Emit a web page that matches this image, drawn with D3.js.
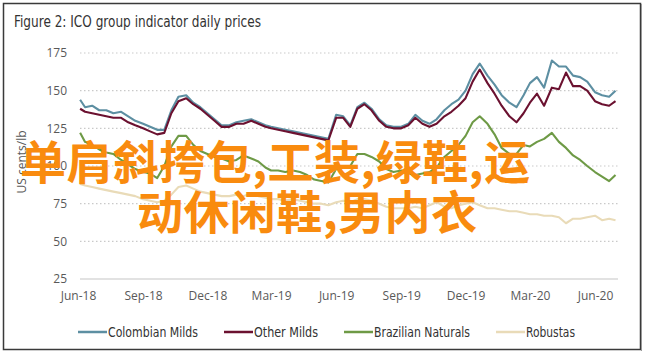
<!DOCTYPE html>
<html><head><meta charset="utf-8">
<script src="https://cdn.jsdelivr.net/npm/d3@7"></script>
<style>body{margin:0;background:#fff}svg{display:block}</style>
</head><body><svg id="c" width="646" height="360"></svg>
<script>
const dates=["2018-06-04","2018-06-11","2018-06-21","2018-07-01","2018-07-11","2018-07-21","2018-08-01","2018-08-11","2018-08-21","2018-09-01","2018-09-11","2018-09-21","2018-10-01","2018-10-11","2018-10-21","2018-11-01","2018-11-11","2018-11-21","2018-12-01","2018-12-11","2018-12-21",
"2019-01-01","2019-01-11","2019-01-21","2019-02-01","2019-02-11","2019-02-21","2019-03-01","2019-03-11","2019-03-21","2019-04-01","2019-04-11","2019-04-21","2019-05-01","2019-05-11","2019-05-21","2019-06-01","2019-06-11","2019-06-21","2019-07-01","2019-07-11","2019-07-21","2019-08-01","2019-08-11","2019-08-21","2019-09-01","2019-09-11","2019-09-21","2019-10-01","2019-10-11","2019-10-21","2019-11-01","2019-11-11","2019-11-21","2019-12-01","2019-12-11","2019-12-21",
"2020-01-01","2020-01-11","2020-01-21","2020-02-01","2020-02-11","2020-02-21","2020-03-01","2020-03-11","2020-03-21","2020-04-01","2020-04-11","2020-04-21","2020-05-01","2020-05-11","2020-05-21","2020-06-01","2020-06-11","2020-06-21","2020-06-30"];
const colombianMilds=[144,139,140,137,137,135,136,133,130,128,126,124,124,137,146,147,142,139,135,131,127,
127,129,130,131,129,127,126,125,124,123,122,121,120,119,118,134,133,127,139,142,138,131,127,126,126,128,134,130,128,131,137,141,144,150,161,168,
160,154,147,142,139,147,155,159,152,170,166,166,160,159,156,149,147,146,150];
const otherMilds=[138,136,135,134,133,132,132,129,127,125,123,121,122,135,143,145,141,138,134,130,126,
126,128,128,130,128,126,125,124,123,122,121,120,119,118,117,132,132,126,138,141,137,130,126,125,125,127,132,128,126,128,133,136,140,145,156,164,
155,148,140,133,129,135,142,148,140,152,151,162,153,153,150,143,141,140,143];
const brazilianNaturals=[122,116,114,111,109,108,104,101,98,96,95,92,100,113,120,120,114,110,108,106,105,
103,104,107,105,103,99,97,97,96,97,96,94,91,90,89,98,99,100,108,108,106,103,98,96,97,95,94,95,96,99,106,110,114,120,129,133,
128,121,112,108,108,114,113,116,118,122,116,112,107,104,100,96,93,90,94];
const robustas=[88,87,86,85,84,83,82,81,80,78,77,76,77,81,86,87,85,83,82,81,80,
80,81,80,82,80,79,78,78,77,78,77,76,75,75,74,76,77,76,78,78,77,75,73,72,72,72,73,72,74,76,73,72,74,75,76,74,
72,72,71,70,70,69,68,68,67,67,66,62,65,65,66,67,64,65,64];
const yTicks=[25,50,75,100,125,150,175];
const xTickDates=["2018-06-01","2018-09-01","2018-12-01","2019-03-01","2019-06-01","2019-09-01","2019-12-01","2020-03-01","2020-06-01"];
const xTickLabels=["Jun-18","Sep-18","Dec-18","Mar-19","Jun-19","Sep-19","Dec-19","Mar-20","Jun-20"];
const seriesNames=["Colombian Milds","Other Milds","Brazilian Naturals","Robustas"];
const seriesColors=["#5d8fa2","#6b1130","#6e9a46","#e9dbb8"];
const titleText="Figure 2: ICO group indicator daily prices";
const yTitle="US cents/lb";
const overlayLines=["单肩斜挎包,工装,绿鞋,运","动休闲鞋,男内衣"];

const parse=d3.timeParse("%Y-%m-%d");
const svg=d3.select("#c");
svg.append("rect").attr("width",646).attr("height",360).attr("fill","#fff");
svg.append("rect").attr("x",3.5).attr("y",3.5).attr("width",637).attr("height",346)
  .attr("fill","none").attr("stroke","#3a3a3a").attr("stroke-width",1.5);
svg.append("line").attr("x1",641.5).attr("x2",641.5).attr("y1",4).attr("y2",351).attr("stroke","#999").attr("stroke-width",1);

const narrow="'Liberation Sans Narrow','DejaVu Sans Condensed',sans-serif";
svg.append("text").attr("x",14).attr("y",27).text(titleText)
  .attr("font-family",narrow).attr("font-size",15.5).attr("fill","#333")
  .attr("textLength",247).attr("lengthAdjust","spacingAndGlyphs");

const x=d3.scaleTime().domain([parse("2018-06-01"),parse("2020-06-01")]).range([78,595]);
const y=d3.scaleLinear().domain([25,175]).range([279,53]);

svg.append("g").selectAll("line").data(yTicks.filter(t=>t>25)).join("line")
  .attr("x1",80).attr("x2",618).attr("y1",d=>y(d)).attr("y2",d=>y(d))
  .attr("stroke","#c9c9c9").attr("stroke-width",1.2).attr("stroke-dasharray","1.5,2.5");
svg.append("line").attr("x1",80).attr("x2",618).attr("y1",y(25)).attr("y2",y(25))
  .attr("stroke","#d9d9d9").attr("stroke-width",1.5);

const tickFont="'Open Sans','DejaVu Sans',sans-serif";
const ya=svg.append("g").attr("transform","translate(80,0)")
  .call(d3.axisLeft(y).tickValues(yTicks).tickSize(0).tickPadding(13));
ya.select(".domain").remove();
ya.selectAll("text").attr("font-family",tickFont).attr("font-size",12).attr("fill","#595959");

const xa=svg.append("g").attr("transform",`translate(0,${y(25)})`)
  .call(d3.axisBottom(x).tickValues(xTickDates.map(parse)).tickFormat((d,i)=>xTickLabels[i]).tickSize(0).tickPadding(12));
xa.select(".domain").remove();
xa.selectAll("text").attr("font-family",tickFont).attr("font-size",12).attr("fill","#595959");

svg.append("text").attr("transform","translate(26,162) rotate(-90)").attr("text-anchor","middle")
  .attr("font-family",tickFont).attr("font-size",12).attr("fill","#595959").text(yTitle);

const allSeries=[colombianMilds,otherMilds,brazilianNaturals,robustas];
const line=d3.line().x((d,i)=>x(parse(dates[i]))).y(d=>y(d));
[3,2,0,1].forEach(k=>{
  svg.append("path").datum(allSeries[k]).attr("d",line).attr("fill","none")
    .attr("stroke",seriesColors[k]).attr("stroke-width",2.1).attr("stroke-linejoin","round");
});

const legX=[78,224,344,496];
const legW=[90,64,96,49];
const lg=svg.append("g");
seriesNames.forEach((n,i)=>{
  lg.append("line").attr("x1",legX[i]).attr("x2",legX[i]+29).attr("y1",332).attr("y2",332)
    .attr("stroke",seriesColors[i]).attr("stroke-width",2.5);
  lg.append("text").attr("x",legX[i]+30).attr("y",336.5).text(n)
    .attr("font-family",narrow).attr("font-size",14).attr("fill","#333")
    .attr("textLength",legW[i]).attr("lengthAdjust","spacingAndGlyphs");
});

const ov=svg.append("g").attr("font-family","'Noto Sans CJK SC',sans-serif").attr("font-weight","bold")
  .attr("font-size",46).attr("fill","#f98b0e");
ov.append("text").attr("x",20).attr("y",179).attr("textLength",510).attr("lengthAdjust","spacing").text(overlayLines[0]);
ov.append("text").attr("x",137).attr("y",229).attr("textLength",340).attr("lengthAdjust","spacing").text(overlayLines[1]);
</script></body></html>
